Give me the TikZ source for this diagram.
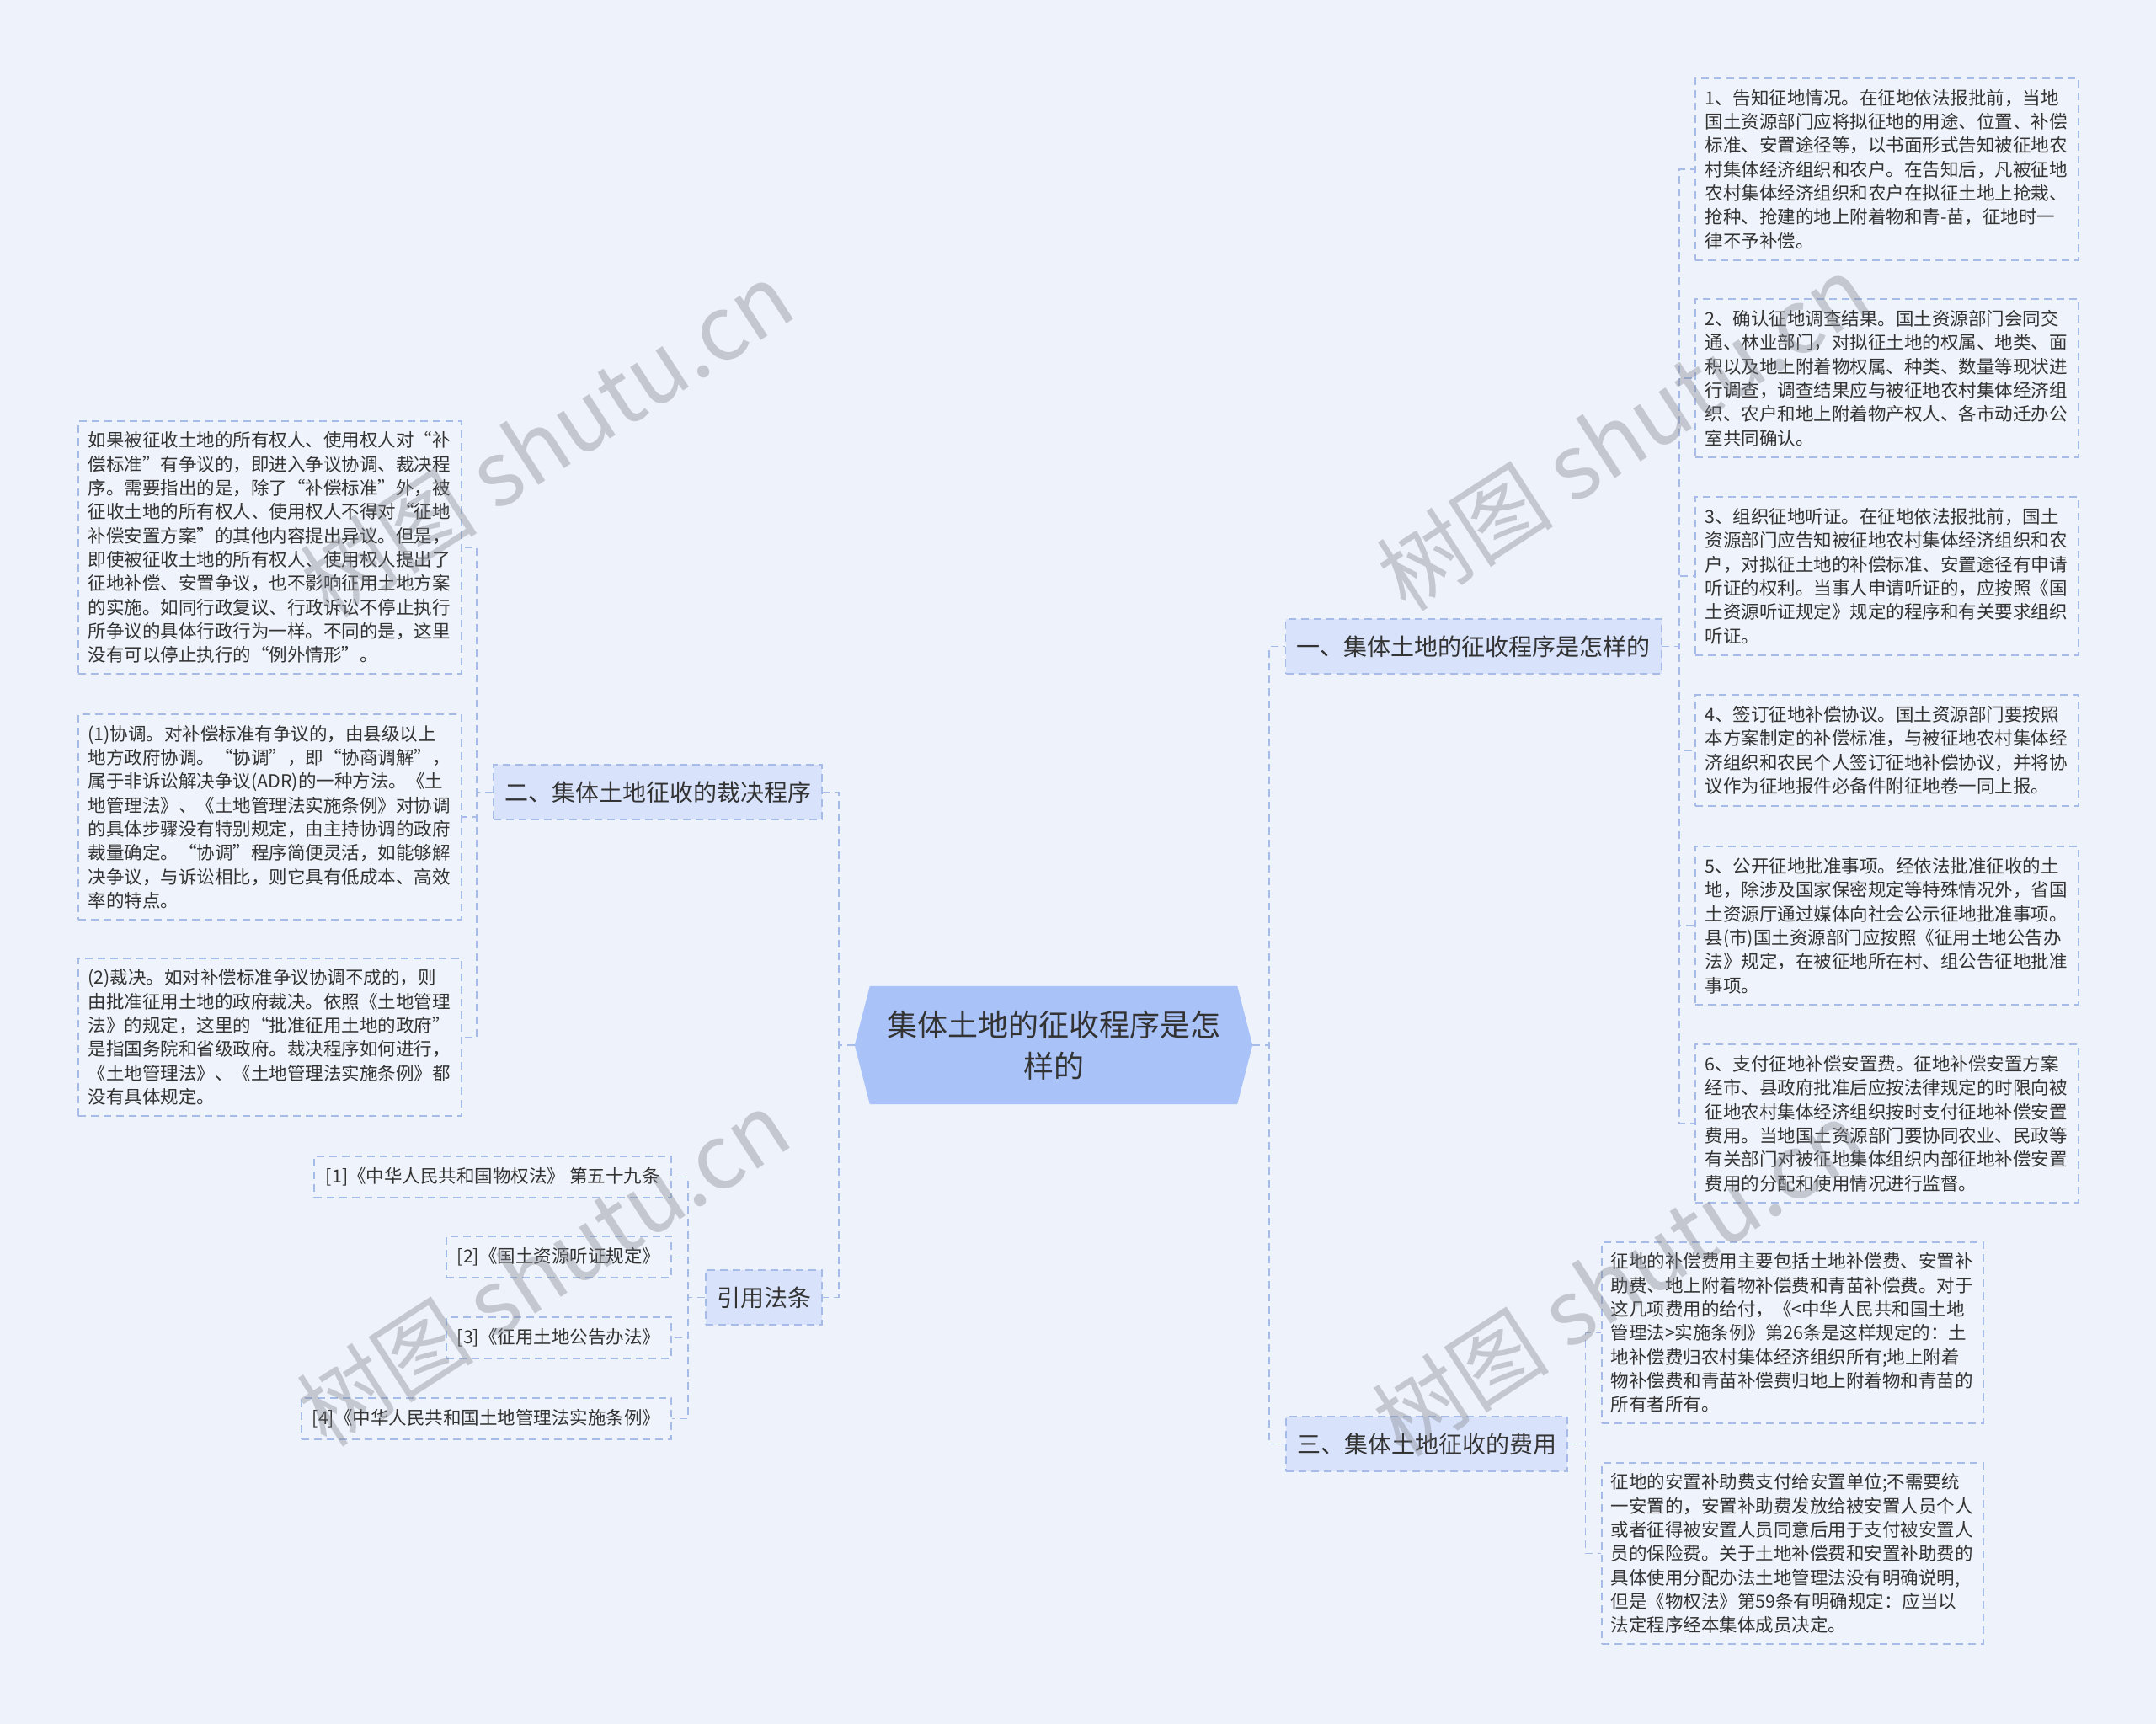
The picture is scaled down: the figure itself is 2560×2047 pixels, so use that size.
\documentclass[tikz,border=0pt]{standalone}
\usepackage{fontspec}
\newfontfamily\cjk{Noto Sans CJK SC}
\usetikzlibrary{backgrounds}
\definecolor{bgc}{HTML}{EEF2FA}
\definecolor{bdc}{HTML}{A6BBE8}
\definecolor{brf}{HTML}{D8E3FB}
\definecolor{lff}{HTML}{EFF3FB}
\definecolor{cfl}{HTML}{A9C3F9}
\definecolor{txt}{HTML}{333333}
\definecolor{wmc}{HTML}{80838C}
\tikzset{
  dashbox/.style={draw=bdc, line width=1.6pt, dash pattern=on 9pt off 6pt, text=txt},
  leaf/.style={dashbox, fill=lff, font=\cjk\fontsize{21.5}{28.33}\selectfont,
    text width=432pt, align=left, inner xsep=11.5pt, inner ysep=0pt},
  feeleaf/.style={leaf, inner xsep=10.5pt},
  refbox/.style={dashbox, fill=lff, font=\cjk\fontsize{21.5}{28.33}\selectfont,
    inner xsep=13pt, inner ysep=0pt, minimum height=49pt, anchor=east},
  branch/.style={dashbox, fill=brf, font=\cjk\fontsize{28}{34}\selectfont,
    inner xsep=13pt, inner ysep=0pt, minimum height=65pt},
  conn/.style={draw=bdc, line width=1.6pt, dash pattern=on 9pt off 6pt},
  wmark/.style={text=wmc, opacity=0.38, rotate=33, font=\cjk\fontsize{106}{110}\selectfont}
}
\begin{document}
\begin{tikzpicture}[x=1pt, y=-1pt]
\useasboundingbox (0,0) rectangle (2560,2047);

% central node
\node[text=txt, font=\cjk\fontsize{36}{49}\selectfont, align=center,
      minimum width=472pt, minimum height=140pt, inner sep=0pt] (c) at (1251,1241)
  {集体土地的征收程序是怎\\样的};

% branches
\node[branch] (b1) at (1749.5,767.5) {一、集体土地的征收程序是怎样的};
\node[branch] (b2) at (781,940.5) {二、集体土地征收的裁决程序};
\node[branch] (b4) at (907,1540.5) {引用法条};
\node[branch] (b3) at (1694,1714.5) {三、集体土地征收的费用};

% right leaves of branch 1
\node[leaf, minimum height=216pt] (r1) at (2240.5,201) {1、告知征地情况。在征地依法报批前，当地\\
国土资源部门应将拟征地的用途、位置、补偿\\
标准、安置途径等，以书面形式告知被征地农\\
村集体经济组织和农户。在告知后，凡被征地\\
农村集体经济组织和农户在拟征土地上抢栽、\\
抢种、抢建的地上附着物和青-苗，征地时一\\
律不予补偿。};
\node[leaf, minimum height=188pt] (r2) at (2240.5,449) {2、确认征地调查结果。国土资源部门会同交\\
通、林业部门，对拟征土地的权属、地类、面\\
积以及地上附着物权属、种类、数量等现状进\\
行调查，调查结果应与被征地农村集体经济组\\
织、农户和地上附着物产权人、各市动迁办公\\
室共同确认。};
\node[leaf, minimum height=188pt] (r3) at (2240.5,684) {3、组织征地听证。在征地依法报批前，国土\\
资源部门应告知被征地农村集体经济组织和农\\
户，对拟征土地的补偿标准、安置途径有申请\\
听证的权利。当事人申请听证的，应按照《国\\
土资源听证规定》规定的程序和有关要求组织\\
听证。};
\node[leaf, minimum height=132pt] (r4) at (2240.5,891) {4、签订征地补偿协议。国土资源部门要按照\\
本方案制定的补偿标准，与被征地农村集体经\\
济组织和农民个人签订征地补偿协议，并将协\\
议作为征地报件必备件附征地卷一同上报。};
\node[leaf, minimum height=188pt] (r5) at (2240.5,1099) {5、公开征地批准事项。经依法批准征收的土\\
地，除涉及国家保密规定等特殊情况外，省国\\
土资源厅通过媒体向社会公示征地批准事项。\\
县(市)国土资源部门应按照《征用土地公告办\\
法》规定，在被征地所在村、组公告征地批准\\
事项。};
\node[leaf, minimum height=188pt] (r6) at (2240.5,1334) {6、支付征地补偿安置费。征地补偿安置方案\\
经市、县政府批准后应按法律规定的时限向被\\
征地农村集体经济组织按时支付征地补偿安置\\
费用。当地国土资源部门要协同农业、民政等\\
有关部门对被征地集体组织内部征地补偿安置\\
费用的分配和使用情况进行监督。};

% leaves of branch 3
\node[feeleaf, minimum height=215pt] (f1) at (2128.5,1582.5) {征地的补偿费用主要包括土地补偿费、安置补\\
助费、地上附着物补偿费和青苗补偿费。对于\\
这几项费用的给付，《<中华人民共和国土地\\
管理法>实施条例》第26条是这样规定的：土\\
地补偿费归农村集体经济组织所有;地上附着\\
物补偿费和青苗补偿费归地上附着物和青苗的\\
所有者所有。};
\node[feeleaf, minimum height=215pt] (f2) at (2128.5,1844.5) {征地的安置补助费支付给安置单位;不需要统\\
一安置的，安置补助费发放给被安置人员个人\\
或者征得被安置人员同意后用于支付被安置人\\
员的保险费。关于土地补偿费和安置补助费的\\
具体使用分配办法土地管理法没有明确说明,\\
但是《物权法》第59条有明确规定：应当以\\
法定程序经本集体成员决定。};

% leaves of branch 2
\node[leaf, minimum height=300pt] (l1) at (320.5,650) {如果被征收土地的所有权人、使用权人对“补\\
偿标准”有争议的，即进入争议协调、裁决程\\
序。需要指出的是，除了“补偿标准”外，被\\
征收土地的所有权人、使用权人不得对“征地\\
补偿安置方案”的其他内容提出异议。但是，\\
即使被征收土地的所有权人、使用权人提出了\\
征地补偿、安置争议，也不影响征用土地方案\\
的实施。如同行政复议、行政诉讼不停止执行\\
所争议的具体行政行为一样。不同的是，这里\\
没有可以停止执行的“例外情形”。};
\node[leaf, minimum height=244pt] (l2) at (320.5,970) {(1)协调。对补偿标准有争议的，由县级以上\\
地方政府协调。“协调”，即“协商调解”，\\
属于非诉讼解决争议(ADR)的一种方法。《土\\
地管理法》、《土地管理法实施条例》对协调\\
的具体步骤没有特别规定，由主持协调的政府\\
裁量确定。“协调”程序简便灵活，如能够解\\
决争议，与诉讼相比，则它具有低成本、高效\\
率的特点。};
\node[leaf, minimum height=187pt] (l3) at (320.5,1231.5) {(2)裁决。如对补偿标准争议协调不成的，则\\
由批准征用土地的政府裁决。依照《土地管理\\
法》的规定，这里的“批准征用土地的政府”\\
是指国务院和省级政府。裁决程序如何进行，\\
《土地管理法》、《土地管理法实施条例》都\\
没有具体规定。};

% references
\node[refbox, minimum width=424pt] (q1) at (798,1397.5) {[1]《中华人民共和国物权法》 第五十九条};
\node[refbox, minimum width=266pt] (q2) at (798,1492.5) {[2]《国土资源听证规定》};
\node[refbox, minimum width=266pt] (q3) at (798,1588.5) {[3]《征用土地公告办法》};
\node[refbox, minimum width=439pt] (q4) at (798,1684.5) {[4]《中华人民共和国土地管理法实施条例》};

% background and central shape
\begin{pgfonlayer}{background}
  \fill[bgc] (0,0) rectangle (2560,2047);
  \fill[cfl] ([xshift=18pt]c.north west) -- ([xshift=-18pt]c.north east) -- (c.east)
    -- ([xshift=-18pt]c.south east) -- ([xshift=18pt]c.south west) -- (c.west) -- cycle;
\end{pgfonlayer}

% connectors
\draw[conn] (c.east) -- ++(20,0) |- (b1.west);
\draw[conn] (c.east) -- ++(20,0) |- (b3.west);
\draw[conn] (c.west) -- ++(-19,0) |- (b2.east);
\draw[conn] (c.west) -- ++(-19,0) |- (b4.east);
\foreach \n in {r1,r2,r3,r4,r5,r6} {\draw[conn] (b1.east) -- ++(20.5,0) |- (\n.west);}
\foreach \n in {f1,f2} {\draw[conn] (b3.east) -- ++(20.5,0) |- (\n.west);}
\foreach \n in {l1,l2,l3} {\draw[conn] (b2.west) -- ++(-19,0) |- (\n.east);}
\foreach \n in {q1,q2,q3,q4} {\draw[conn] (b4.west) -- ++(-20,0) |- (\n.east);}

% watermarks
\node[wmark] (w1) at (649,522) {树图 shutu.cn};
\node[wmark] (w2) at (1927,514) {树图 shutu.cn};
\node[wmark] (w3) at (645,1506) {树图 shutu.cn};
\node[wmark] (w4) at (1922,1518) {树图 shutu.cn};
\end{tikzpicture}
\end{document}
